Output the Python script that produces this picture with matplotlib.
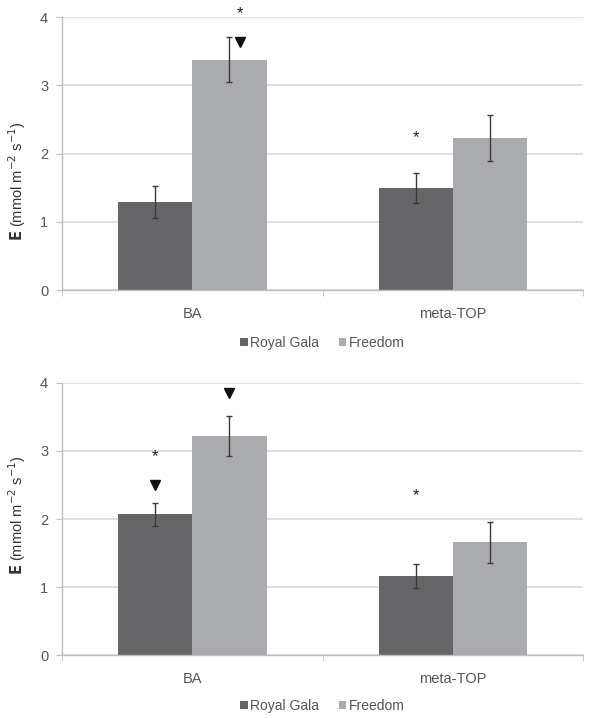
import matplotlib
matplotlib.use("Agg")
import matplotlib.pyplot as plt
import numpy as np

plt.rcParams['font.family'] = ['Liberation Sans', 'DejaVu Sans']

categories = ["BA", "meta-TOP"]
series_names = ["Royal Gala", "Freedom"]

# Top panel
top_royal = [1.29, 1.50]
top_royal_err = [0.23, 0.22]
top_freedom = [3.38, 2.23]
top_freedom_err = [0.33, 0.34]

# Bottom panel
bot_royal = [2.07, 1.16]
bot_royal_err = [0.17, 0.18]
bot_freedom = [3.22, 1.66]
bot_freedom_err = [0.30, 0.30]

# Annotations: (category index, series index, y value)
top_stars = [(0, 1, 4.05), (1, 0, 2.24)]
top_triangles = [(0, 1, 3.63)]
bot_stars = [(0, 0, 2.91), (1, 0, 2.35)]
bot_triangles = [(0, 0, 2.50), (0, 1, 3.85)]

yticks = [0, 1, 2, 3, 4]

dark = "#666669"
light = "#aaabae"
grid_c = "#d9d9d9"
axis_c = "#bfbfbf"
text_c = "#555555"

fig = plt.figure(figsize=(5.93, 7.18), dpi=100)
ax_top = fig.add_axes([0.1046, 0.596, 0.8785, 0.380])
ax_bot = fig.add_axes([0.1046, 0.0877, 0.8785, 0.3789])

w = 0.285


def panel(ax, royal, royal_err, freedom, freedom_err, stars, tris, legend_y, label_y, shift):
    x = np.arange(len(categories))
    offs = [-w / 2, w / 2]
    ax.bar(x - w / 2, royal, w, color=dark, label=series_names[0], zorder=2)
    ax.bar(x + w / 2, freedom, w, color=light, label=series_names[1], zorder=2)
    ax.errorbar(x - w / 2, royal, yerr=royal_err, fmt="none", ecolor="#3a3a3a",
                elinewidth=1.0, capsize=2.5, capthick=1.0, zorder=3)
    ax.errorbar(x + w / 2, freedom, yerr=freedom_err, fmt="none", ecolor="#3a3a3a",
                elinewidth=1.0, capsize=2.5, capthick=1.0, zorder=3)
    for ci, si, yv in stars:
        dx = shift if (ci == 0 and si == 1) else 0.0
        ax.text(x[ci] + offs[si] + dx, yv, "*", ha="center",
                va="center", fontsize=12, color="#222222", zorder=4)
    for ci, si, yv in tris:
        dx = shift if (ci == 0 and si == 1) else 0.0
        ax.plot([x[ci] + offs[si] + dx], [yv],
                marker="v", color="#111111", markersize=7, zorder=4, clip_on=False)
    ax.set_xlim(-0.5, 1.5)
    ax.set_ylim(0, 4)
    ax.set_yticks(yticks)
    ax.set_yticklabels([str(t) for t in yticks])
    ax.yaxis.grid(True, color=grid_c, linewidth=1.2, zorder=0)
    ax.set_axisbelow(True)
    ax.set_xticks(x)
    ax.set_xticklabels(categories)
    ax.set_xticks([-0.5, 0.5, 1.5], minor=True)
    ax.tick_params(axis="x", which="major", length=0, labelsize=10.5, labelcolor=text_c, pad=12)
    ax.tick_params(axis="x", which="minor", length=4, color=axis_c, direction="out")
    ax.tick_params(axis="y", length=4, color=axis_c, labelsize=10.5, labelcolor=text_c, pad=6)
    for s in ["top", "right"]:
        ax.spines[s].set_visible(False)
    for s in ["left", "bottom"]:
        ax.spines[s].set_color(axis_c)
        ax.spines[s].set_linewidth(1.0)
    ax.set_ylabel(r"$\mathbf{E}$ (mmol m$^{-2}$ s$^{-1}$)", fontsize=10.5, color="#333333")
    ax.yaxis.set_label_coords(-0.066, label_y)
    ax.legend(loc="center", bbox_to_anchor=(0.5, legend_y), ncol=2, frameon=False,
              fontsize=10, handlelength=0.55, handleheight=0.55, handletextpad=0.2,
              columnspacing=1.4, labelcolor=text_c)


panel(ax_top, top_royal, top_royal_err, top_freedom, top_freedom_err, top_stars, top_triangles,
      -0.194, 0.40, 0.04)
panel(ax_bot, bot_royal, bot_royal_err, bot_freedom, bot_freedom_err, bot_stars, bot_triangles,
      -0.1875, 0.515, 0.0)

fig.savefig("out.png", dpi=100, facecolor="white")
